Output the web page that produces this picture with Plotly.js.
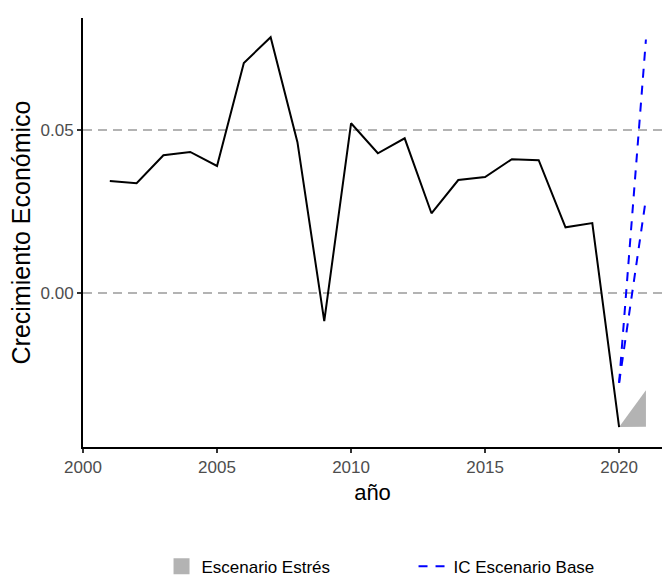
<!DOCTYPE html>
<html>
<head>
<meta charset="utf-8">
<script src="https://cdn.plot.ly/plotly-3.0.1.min.js"></script>
<style>html,body{margin:0;padding:0;background:#fff;}#chart{width:662px;height:576px;}</style>
</head>
<body>
<div id="chart"></div>
<script>
// Observed series
const years = [2001,2002,2003,2004,2005,2006,2007,2008,2009,2010,2011,2012,2013,2014,2015,2016,2017,2018,2019,2020];
const growth = [0.0344,0.0337,0.0423,0.0433,0.0390,0.0706,0.0785,0.0463,-0.0086,0.0521,0.0429,0.0475,0.0245,0.0347,0.0356,0.0411,0.0408,0.0202,0.0215,-0.0411];

// Stress scenario ribbon
const stressYears = [2020, 2021];
const stressLower = [-0.0411, -0.0410];
const stressUpper = [-0.0411, -0.0298];

// Base scenario confidence interval
const baseYears = [2020, 2021];
const baseICLower = [-0.0275, 0.0290];
const baseICUpper = [-0.0275, 0.0778];

const gridVals = [0.00, 0.05];
const xTicks = [2000, 2005, 2010, 2015, 2020];

const ribbonX = stressYears.concat(stressYears.slice().reverse());
const ribbonY = stressUpper.concat(stressLower.slice().reverse());

const font = 'Liberation Sans, Arial, sans-serif';

const traces = [
  {x: ribbonX, y: ribbonY, type: 'scatter', mode: 'lines', fill: 'toself',
   fillcolor: '#b3b3b3', line: {width: 0, color: '#b3b3b3'}, showlegend: false, hoverinfo: 'skip'},
  {x: [null], y: [null], type: 'scatter', mode: 'markers', name: 'Escenario Estrés',
   marker: {symbol: 'square', size: 30, color: '#b3b3b3'}},
  {x: years, y: growth, type: 'scatter', mode: 'lines', line: {color: '#000000', width: 2}, showlegend: false},
  {x: baseYears, y: baseICLower, type: 'scatter', mode: 'lines', name: 'IC Escenario Base',
   line: {color: '#0000ff', width: 2, dash: '9px,8px'}, showlegend: true},
  {x: baseYears, y: baseICUpper, type: 'scatter', mode: 'lines', name: 'IC Escenario Base',
   line: {color: '#0000ff', width: 2, dash: '9px,8px'}, showlegend: false}
];

const layout = {
  width: 662, height: 576,
  margin: {l: 83, r: 0, t: 18, b: 129},
  paper_bgcolor: '#ffffff', plot_bgcolor: '#ffffff',
  font: {family: font, color: '#000000'},
  xaxis: {
    range: [2000, 2021.6], tickvals: xTicks, ticktext: xTicks.map(String),
    showgrid: false, zeroline: false, showline: true, linecolor: '#000000', linewidth: 2,
    ticks: 'outside', ticklen: 4, tickwidth: 1.5, tickcolor: '#333333',
    tickfont: {size: 17, color: '#4d4d4d', family: font},
    title: {text: 'año', font: {size: 22, color: '#000000', family: font}, standoff: 8}
  },
  yaxis: {
    range: [-0.0472, 0.0844], tickvals: gridVals, tickformat: '.2f',
    showgrid: true, gridcolor: '#b3b3b3', gridwidth: 1.5, griddash: '9px,6px',
    zeroline: false, showline: true, linecolor: '#000000', linewidth: 2,
    ticks: 'outside', ticklen: 4, tickwidth: 1.5, tickcolor: '#333333',
    tickfont: {size: 17, color: '#4d4d4d', family: font},
    title: {text: 'Crecimiento Económico', font: {size: 25, color: '#000000', family: font}, standoff: 3}
  },
  showlegend: true,
  legend: {orientation: 'h', xref: 'container', yref: 'container', x: 0.244, xanchor: 'left',
    y: 0.016, yanchor: 'middle',
    font: {size: 17, color: '#000000', family: font}, entrywidth: 207, entrywidthmode: 'pixels',
    traceorder: 'normal'}
};

Plotly.newPlot('chart', traces, layout, {displayModeBar: false, staticPlot: true});
</script>
</body>
</html>
